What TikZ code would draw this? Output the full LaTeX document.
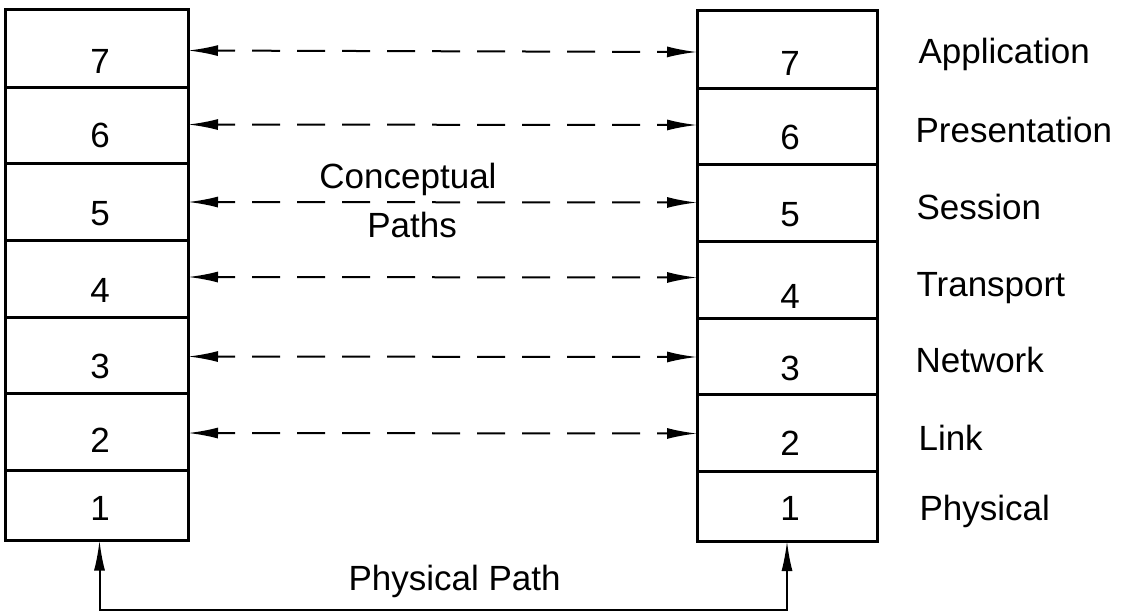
\documentclass[tikz,border=0pt]{standalone}
\usepackage{fontspec}
\setmainfont{Liberation Sans}
\usetikzlibrary{arrows.meta}
\begin{document}
\begin{tikzpicture}[x=1pt,y=-1pt,
  layer/.style={draw,line width=3pt,rectangle,minimum width=#1,inner sep=0pt,outer sep=0pt},
  num/.style={anchor=base,font=\fontsize{35}{40}\selectfont},
  lab/.style={anchor=base west,font=\fontsize{35}{40}\selectfont},
  concept/.style={line width=2pt,{Latex[length=30pt,width=11pt]}-{Latex[length=30pt,width=11pt]},dash pattern=on 28pt off 17pt,dash phase=10pt},
  phys/.style={line width=2pt,{Latex[length=30pt,width=11pt]}-{Latex[length=30pt,width=11pt]}}]
\useasboundingbox (0,0) rectangle (1132,614);
% left stack
\node[layer=183pt,minimum height=78pt] (L7) at (96.5,48.5) {};
\node[layer=183pt,minimum height=76pt] (L6) at (96.5,125.5) {};
\node[layer=183pt,minimum height=77pt] (L5) at (96.5,202) {};
\node[layer=183pt,minimum height=77pt] (L4) at (96.5,279) {};
\node[layer=183pt,minimum height=76pt] (L3) at (96.5,355.5) {};
\node[layer=183pt,minimum height=77pt] (L2) at (96.5,432) {};
\node[layer=183pt,minimum height=70pt] (L1) at (96.5,505.5) {};
% right stack
\node[layer=180pt,minimum height=78pt] (R7) at (787,49) {};
\node[layer=180pt,minimum height=76pt] (R6) at (787,126) {};
\node[layer=180pt,minimum height=77pt] (R5) at (787,202.5) {};
\node[layer=180pt,minimum height=77pt] (R4) at (787,279.5) {};
\node[layer=180pt,minimum height=76pt] (R3) at (787,356) {};
\node[layer=180pt,minimum height=77pt] (R2) at (787,432.5) {};
\node[layer=180pt,minimum height=70pt] (R1) at (787,506) {};
% numbers left
\node[num] (nl7) at (100,73) {7};
\node[num] (nl6) at (100,147) {6};
\node[num] (nl5) at (100,225) {5};
\node[num] (nl4) at (100,302) {4};
\node[num] (nl3) at (100,378) {3};
\node[num] (nl2) at (100,452) {2};
\node[num] (nl1) at (100,520) {1};
% numbers right
\node[num] (nr7) at (790,75) {7};
\node[num] (nr6) at (790,149) {6};
\node[num] (nr5) at (790,226) {5};
\node[num] (nr4) at (790,308) {4};
\node[num] (nr3) at (790,380) {3};
\node[num] (nr2) at (790,455) {2};
\node[num] (nr1) at (790,520) {1};
% layer names
\node[lab] (a7) at (915,63) {Application};
\node[lab] (a6) at (912,142) {Presentation};
\node[lab] (a5) at (913,219) {Session};
\node[lab] (a4) at (913,296) {Transport};
\node[lab] (a3) at (912,372) {Network};
\node[lab] (a2) at (915,450) {Link};
\node[lab] (a1) at (916,520) {Physical};
% conceptual paths
\draw[concept] ([yshift=-2pt]L7.east) -- ([yshift=-3pt]R7.west);
\draw[concept] ([yshift=1pt]L6.east) -- ([yshift=1pt]R6.west);
\draw[concept] (L5.east) -- (R5.west);
\draw[concept] ([yshift=2pt]L4.east) -- ([yshift=2pt]R4.west);
\draw[concept] ([yshift=-1pt]L3.east) -- ([yshift=-1pt]R3.west);
\draw[concept] ([yshift=-1pt]L2.east) -- ([yshift=-1pt]R2.west);
\node[anchor=base,font=\fontsize{35}{40}\selectfont] (cp1) at (408,188) {Conceptual};
\node[anchor=base,font=\fontsize{35}{40}\selectfont] (cp2) at (412,237) {Paths};
% physical path
\coordinate (pl) at ([xshift=3pt]L1.south |- 0,610);
\coordinate (pr) at (R1.south |- 0,610);
\draw[phys] ([xshift=3pt]L1.south) -- (pl) -- (pr) -- (R1.south);
\node[anchor=base west,font=\fontsize{35}{40}\selectfont] (pp) at (345,590) {Physical Path};
\end{tikzpicture}
\end{document}
